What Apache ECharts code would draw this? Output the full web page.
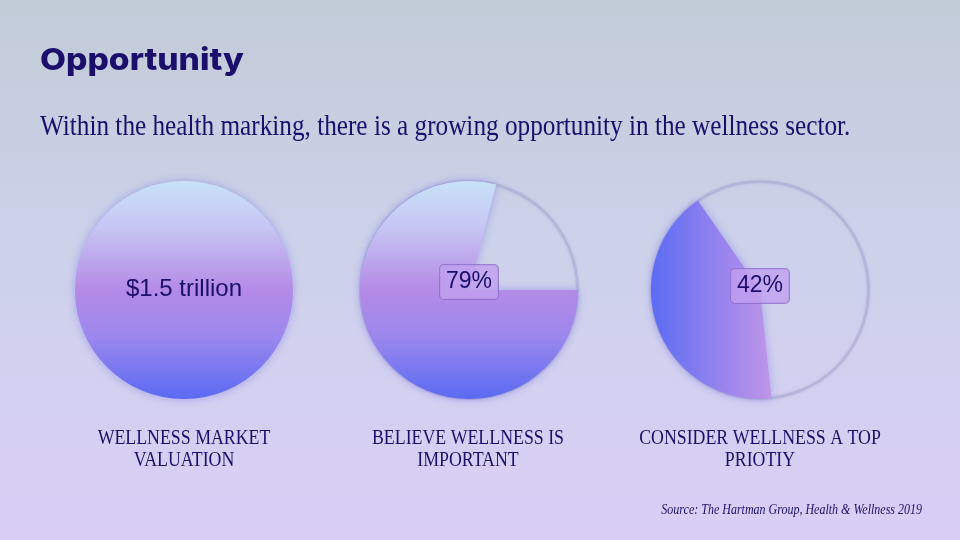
<!DOCTYPE html>
<html><head><meta charset="utf-8">
<script src="https://cdn.jsdelivr.net/npm/echarts@6/dist/echarts.min.js"></script>
<style>html,body{margin:0;padding:0;background:#cfd3e8;}#c{width:960px;height:540px;}</style>
</head><body><div id="c"></div>
<script>
const titleText = 'Opportunity';
const subtitleText = 'Within the health marking, there is a growing opportunity in the wellness sector.';
const categories = ['WELLNESS MARKET\nVALUATION', 'BELIEVE WELLNESS IS\nIMPORTANT', 'CONSIDER WELLNESS A TOP\nPRIOTIY'];
const values = [100, 79, 42];
const valueLabels = ['$1.5 trillion', '79%', '42%'];
const sourceText = 'Source: The Hartman Group, Health & Wellness 2019';

const NAVY = '#1b0f6b';
const centers = [[184, 290], [469, 290], [760, 290]];
const R = 109;
const startAngles = [90, 0, -84];
const labelOffsets = [[0, -1], [0, -8], [0, -4]];
const labelX = [184, 468, 760];

function vGrad() {
  return {type: 'linear', x: 0, y: 0, x2: 0, y2: 1, colorStops: [
    {offset: 0, color: '#c8e2f8'}, {offset: 0.22, color: '#c6c4f3'},
    {offset: 0.5, color: '#b48ae6'}, {offset: 0.72, color: '#9b87ee'},
    {offset: 1, color: '#5a6af2'}]};
}
function hGrad() {
  return {type: 'linear', x: 0, y: 0, x2: 1, y2: 0, colorStops: [
    {offset: 0, color: '#5b6cf3'}, {offset: 0.5, color: '#8f80ef'},
    {offset: 1, color: '#bf95e8'}]};
}

const series = [];
values.forEach((v, i) => {
  if (v < 100) {
    series.push({
      type: 'pie', silent: true, center: centers[i], radius: [R - 2, R + 1],
      label: {show: false}, labelLine: {show: false}, z: 1,
      itemStyle: {color: 'rgba(165,162,205,0.45)', shadowBlur: 3, shadowColor: 'rgba(150,150,200,0.6)'},
      data: [{value: 1}], animation: false
    });
  }
  const boxed = i > 0;
  series.push({
    type: 'pie', silent: true, center: centers[i], radius: [0, R],
    startAngle: startAngles[i], clockwise: true, z: 2, animation: false,
    emphasis: {disabled: true},
    labelLine: {show: false},
    data: [
      {value: v, itemStyle: {color: i === 2 ? hGrad() : vGrad(), shadowBlur: 10, shadowColor: 'rgba(105,100,225,0.45)'},
        label: {show: true, position: 'center', formatter: valueLabels[i], offset: labelOffsets[i],
          fontFamily: 'Liberation Sans, Arial, sans-serif', fontSize: boxed ? 23 : 24, color: NAVY,
          backgroundColor: boxed ? 'rgba(192,160,240,0.8)' : 'transparent',
          borderColor: boxed ? 'rgba(140,110,200,0.8)' : 'transparent', borderWidth: boxed ? 1 : 0,
          borderRadius: 4, padding: boxed ? [6, 6, 5, 6] : 0}},
      {value: 100 - v, itemStyle: {color: 'rgba(0,0,0,0)'}, label: {show: false}}
    ]
  });
});

const graphic = [
  {type: 'text', x: 40, y: 61, scaleX: 1.12, style: {text: titleText, font: '800 30px Inter, sans-serif', fill: NAVY, textVerticalAlign: 'middle'}},
  {type: 'text', x: 40, y: 127, scaleX: 0.87, style: {text: subtitleText, font: '29px "Liberation Serif", serif', fill: NAVY, textVerticalAlign: 'middle'}},
  {type: 'text', x: 922, y: 510, scaleX: 0.8, style: {text: sourceText, font: 'italic 15px "Liberation Serif", serif', fill: NAVY, textAlign: 'right', textVerticalAlign: 'middle'}}
];
categories.forEach((c, i) => {
  graphic.push({type: 'text', x: labelX[i], y: 427, scaleX: 0.81,
    style: {text: c, font: '22px "Liberation Serif", serif', lineHeight: 22, fill: NAVY, textAlign: 'center', textVerticalAlign: 'top'}});
});

const chart = echarts.init(document.getElementById('c'));
chart.setOption({
  backgroundColor: {type: 'linear', x: 0, y: 0, x2: 0, y2: 1, colorStops: [
    {offset: 0, color: '#c2cbd8'}, {offset: 0.45, color: '#ccd2ea'}, {offset: 1, color: '#dacef7'}]},
  animation: false,
  series: series,
  graphic: graphic
});
</script>
</body></html>
